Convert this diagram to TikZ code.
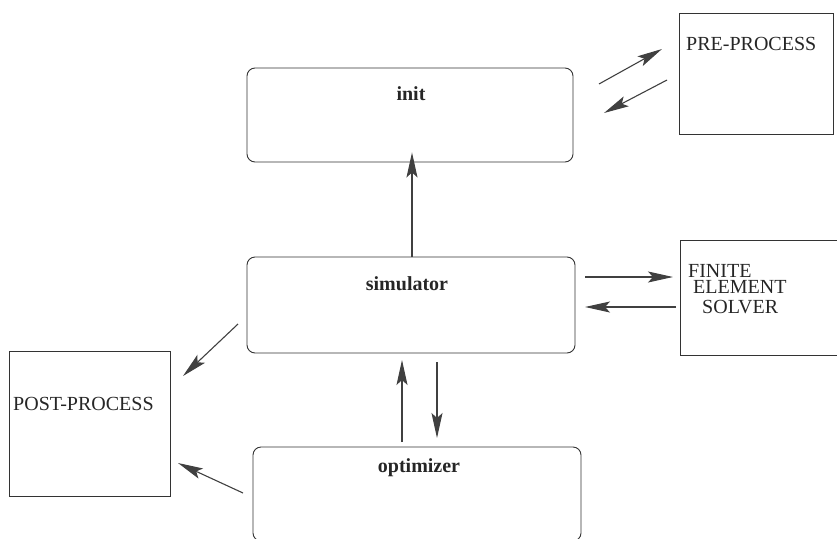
\documentclass[tikz,border=0pt]{standalone}
\usepackage{fontspec}
\setmainfont{Liberation Serif}
\usetikzlibrary{arrows.meta,positioning}
\tikzset{
	procbox/.style={draw=black!80,line width=0.9pt,rounded corners=8pt,inner sep=0pt},
	iobox/.style={draw=black!80,line width=0.9pt,inner sep=0pt},
	title/.style={font=\fontsize{20}{20}\selectfont\bfseries,anchor=base,inner sep=0pt,text=black!85},
	iotext/.style={font=\fontsize{20}{20}\selectfont,anchor=base west,inner sep=0pt,text=black!85},
	flow/.style={draw=black!75,line width=1.1pt,-{Stealth[length=25pt,width=11pt,inset=5pt]}}
}
\begin{document}
\begin{tikzpicture}[x=1pt,y=-1pt]
		\useasboundingbox (0,0) rectangle (837,538);
		% main blocks
		\node[procbox,minimum width=326pt,minimum height=94pt] (init) at (410,115) {};
		\node[title] (initlabel) at (411,100) {init};
		\node[procbox,minimum width=328pt,minimum height=96pt] (sim) at (411,305) {};
		\node[title] (simlabel) at (407,290) {simulator};
		\node[procbox,minimum width=328pt,minimum height=94pt] (opt) at (417,494) {};
		\node[title] (optlabel) at (419,472) {optimizer};
		% outer blocks
		\node[iobox,minimum width=154pt,minimum height=121pt] (pre) at (756,73.5) {};
		\node[iotext] (prelabel) at (686,50) {PRE-PROCESS};
		\node[iobox,minimum width=160pt,minimum height=115pt] (fem) at (760,297.5) {};
		\node[iotext] (femA) at (688,277) {FINITE};
		\node[iotext] (femB) at (693,293.5) {ELEMENT};
		\node[iotext] (femC) at (702,313) {SOLVER};
		\node[iobox,minimum width=161pt,minimum height=145pt] (post) at (89.5,423.5) {};
		\node[iotext] (postlabel) at (13,410) {POST-PROCESS};
		% arrow ends
		\coordinate (preA1) at (599,84);
		\coordinate (preA2) at (662,49);
		\coordinate (preB1) at (667,80);
		\coordinate (preB2) at (604,113);
		\coordinate (femA1) at (585,277);
		\coordinate (femA2) at (673,277);
		\coordinate (femB1) at (676,307);
		\coordinate (femB2) at (585,307);
		\coordinate (postA1) at (238,324);
		\coordinate (postA2) at (183,376);
		\coordinate (postB1) at (243,493);
		\coordinate (postB2) at (178,463);
		\coordinate (optUp1) at (402,442);
		\coordinate (optUp2) at (402,360);
		\coordinate (optDn1) at (437,362);
		\coordinate (optDn2) at (437,438);
		% connectors
		\draw[flow] (sim.north-|initlabel) ++(1,0) coordinate (simtop) -- ([yshift=10pt]init.south-|simtop);
		\draw[flow] (preA1) -- (preA2);
		\draw[flow] (preB1) -- (preB2);
		\draw[flow] (femA1) -- (femA2);
		\draw[flow] (femB1) -- (femB2);
		\draw[flow] (postA1) -- (postA2);
		\draw[flow] (postB1) -- (postB2);
		\draw[flow] (optUp1) -- (optUp2);
		\draw[flow] (optDn1) -- (optDn2);
	\end{tikzpicture}
\end{document}
